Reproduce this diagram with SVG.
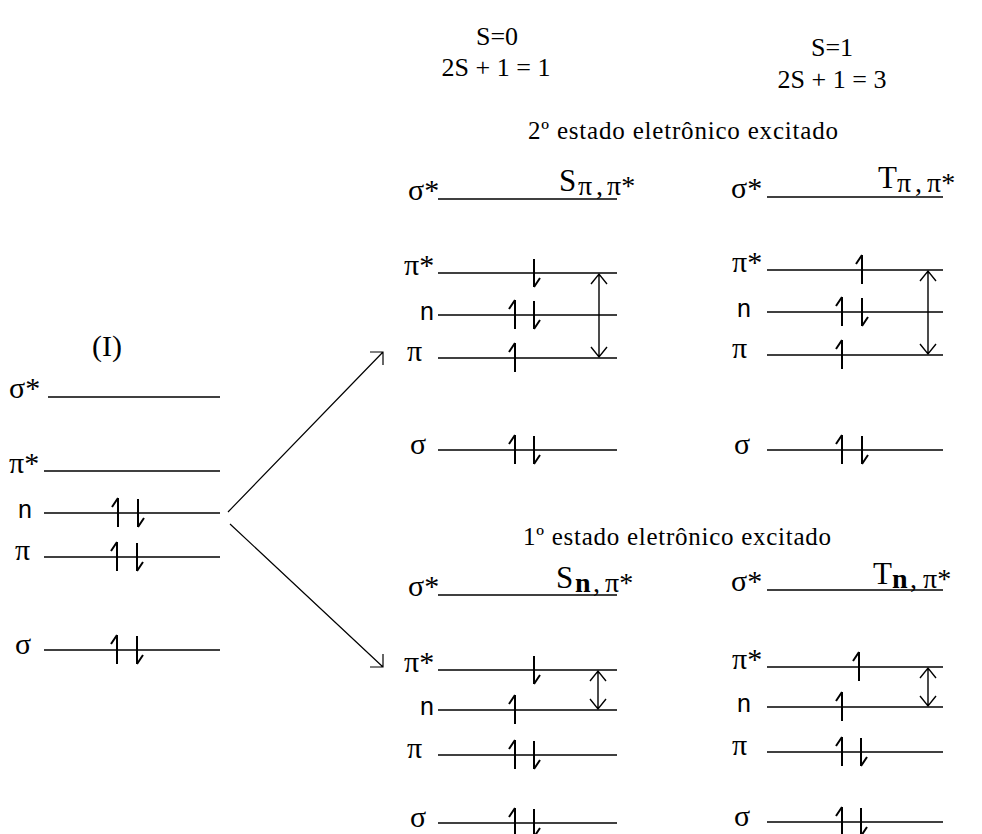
<svg xmlns="http://www.w3.org/2000/svg" xmlns:xlink="http://www.w3.org/1999/xlink" width="982" height="834" viewBox="0 0 982 834">
<style>
.bg{fill:#fff}
.lv{stroke:#000;stroke-width:1.6;fill:none}
.el{stroke:#000;stroke-width:2;fill:none}
.da{stroke:#000;stroke-width:1.4;fill:none}
.ar{stroke:#000;stroke-width:1.2;fill:none}
.t{font-family:"Liberation Serif","Times New Roman",serif;fill:#000}
.h{font-size:26px}
.g{font-size:30px}
.s{font-family:"Liberation Sans",Arial,sans-serif;font-size:25px;fill:#000}
.big{font-size:31px}
.sub{font-size:28px}
.b{font-weight:bold}
</style>
<defs>
<path id="up" d="M0,-15 V14 M0,-15 L-6,-6"/>
<path id="dn" d="M0,-14 V14 M0,14 L6,5"/>
</defs>
<rect class="bg" x="0" y="0" width="982" height="834"/>

<g id="header">
<text class="t h" x="497" y="45" text-anchor="middle">S=0</text>
<text class="t h" x="496" y="76" text-anchor="middle">2S + 1 = 1</text>
<text class="t h" x="832" y="56" text-anchor="middle">S=1</text>
<text class="t h" x="832" y="88" text-anchor="middle">2S + 1 = 3</text>
<text class="t" x="528" y="139" font-size="25" textLength="310" lengthAdjust="spacing">2º estado eletrônico excitado</text>
<text class="t" x="523" y="545" font-size="25" textLength="308" lengthAdjust="spacing">1º estado eletrônico excitado</text>
</g>

<g id="ground">
<text class="t g" x="92" y="356" font-size="26">(I)</text>
<text class="t g" x="9" y="398">σ*</text>
<line class="lv" x1="48" y1="397" x2="220" y2="397"/>
<text class="t g" x="9" y="473">π*</text>
<line class="lv" x1="44" y1="471" x2="220" y2="471"/>
<text class="s" x="18" y="518">n</text>
<line class="lv" x1="44" y1="513" x2="220" y2="513"/>
<text class="t g" x="15" y="560">π</text>
<line class="lv" x1="44" y1="557" x2="220" y2="557"/>
<text class="t g" x="15" y="654">σ</text>
<line class="lv" x1="44" y1="650" x2="220" y2="650"/>
<g class="el">
<use xlink:href="#up" x="118" y="513"/><use xlink:href="#dn" x="138" y="513"/>
<use xlink:href="#up" x="117" y="557"/><use xlink:href="#dn" x="137" y="557"/>
<use xlink:href="#up" x="117" y="650"/><use xlink:href="#dn" x="137" y="650"/>
</g>
</g>

<g id="connectors">
<path class="ar" d="M228,512 L383,352 M370,352 H383 V365"/>
<path class="ar" d="M230,524 L383,667 M383,654 V667 H370"/>
</g>

<g id="S_pipi">
<text class="t big" x="559" y="191">S<tspan class="sub" x="578" y="195">π</tspan><tspan class="sub" x="596" y="195">,</tspan><tspan class="sub" x="607" y="195">π*</tspan></text>
<text class="t g" x="408" y="200">σ*</text>
<line class="lv" x1="438" y1="199" x2="617" y2="199"/>
<text class="t g" x="404" y="275">π*</text>
<line class="lv" x1="438" y1="273" x2="617" y2="273"/>
<text class="s" x="420" y="320">n</text>
<line class="lv" x1="438" y1="315" x2="617" y2="315"/>
<text class="t g" x="407" y="361">π</text>
<line class="lv" x1="438" y1="358" x2="617" y2="358"/>
<text class="t g" x="410" y="454">σ</text>
<line class="lv" x1="438" y1="450" x2="617" y2="450"/>
<g class="el">
<use xlink:href="#dn" x="534" y="273"/>
<use xlink:href="#up" x="515" y="315"/><use xlink:href="#dn" x="534" y="315"/>
<use xlink:href="#up" x="515" y="358"/>
<use xlink:href="#up" x="515" y="450"/><use xlink:href="#dn" x="534" y="450"/>
</g>
<path class="da" d="M599,274 V357 M591,284 L599,274 L607,284 M591,347 L599,357 L607,347"/>
</g>

<g id="T_pipi">
<text class="t big" x="878" y="188">T<tspan class="sub" x="897" y="192">π</tspan><tspan class="sub" x="915" y="192">,</tspan><tspan class="sub" x="927" y="192">π*</tspan></text>
<text class="t g" x="731" y="198">σ*</text>
<line class="lv" x1="767" y1="197" x2="943" y2="197"/>
<text class="t g" x="732" y="272">π*</text>
<line class="lv" x1="767" y1="270" x2="943" y2="270"/>
<text class="s" x="737" y="317">n</text>
<line class="lv" x1="767" y1="312" x2="943" y2="312"/>
<text class="t g" x="732" y="358">π</text>
<line class="lv" x1="767" y1="355" x2="943" y2="355"/>
<text class="t g" x="734" y="454">σ</text>
<line class="lv" x1="767" y1="450" x2="943" y2="450"/>
<g class="el">
<use xlink:href="#up" x="862" y="270"/>
<use xlink:href="#up" x="842" y="312"/><use xlink:href="#dn" x="862" y="312"/>
<use xlink:href="#up" x="842" y="355"/>
<use xlink:href="#up" x="842" y="450"/><use xlink:href="#dn" x="862" y="450"/>
</g>
<path class="da" d="M928,271 V354 M920,281 L928,271 L936,281 M920,344 L928,354 L936,344"/>
</g>

<g id="S_npi">
<text class="t big" x="556" y="588">S<tspan class="sub b" x="575" y="592">n</tspan><tspan class="sub" x="593" y="592">,</tspan><tspan class="sub" x="605" y="592">π*</tspan></text>
<text class="t g" x="408" y="596">σ*</text>
<line class="lv" x1="438" y1="595" x2="617" y2="595"/>
<text class="t g" x="404" y="672">π*</text>
<line class="lv" x1="438" y1="670" x2="617" y2="670"/>
<text class="s" x="420" y="715">n</text>
<line class="lv" x1="438" y1="710" x2="617" y2="710"/>
<text class="t g" x="407" y="758">π</text>
<line class="lv" x1="438" y1="755" x2="617" y2="755"/>
<text class="t g" x="410" y="827">σ</text>
<line class="lv" x1="438" y1="823" x2="617" y2="823"/>
<g class="el">
<use xlink:href="#dn" x="534" y="670"/>
<use xlink:href="#up" x="515" y="710"/>
<use xlink:href="#up" x="515" y="755"/><use xlink:href="#dn" x="534" y="755"/>
<use xlink:href="#up" x="515" y="823"/><use xlink:href="#dn" x="534" y="823"/>
</g>
<path class="da" d="M598,671 V709 M590,681 L598,671 L606,681 M590,699 L598,709 L606,699"/>
</g>

<g id="T_npi">
<text class="t big" x="873" y="584">T<tspan class="sub b" x="892" y="588">n</tspan><tspan class="sub" x="910" y="588">,</tspan><tspan class="sub" x="923" y="588">π*</tspan></text>
<text class="t g" x="731" y="591">σ*</text>
<line class="lv" x1="767" y1="590" x2="943" y2="590"/>
<text class="t g" x="732" y="669">π*</text>
<line class="lv" x1="767" y1="667" x2="943" y2="667"/>
<text class="s" x="737" y="712">n</text>
<line class="lv" x1="767" y1="707" x2="943" y2="707"/>
<text class="t g" x="732" y="755">π</text>
<line class="lv" x1="767" y1="752" x2="943" y2="752"/>
<text class="t g" x="734" y="826">σ</text>
<line class="lv" x1="767" y1="822" x2="943" y2="822"/>
<g class="el">
<use xlink:href="#up" x="859" y="667"/>
<use xlink:href="#up" x="842" y="707"/>
<use xlink:href="#up" x="842" y="752"/><use xlink:href="#dn" x="861" y="752"/>
<use xlink:href="#up" x="842" y="822"/><use xlink:href="#dn" x="861" y="822"/>
</g>
<path class="da" d="M928,668 V706 M920,678 L928,668 L936,678 M920,696 L928,706 L936,696"/>
</g>
</svg>
